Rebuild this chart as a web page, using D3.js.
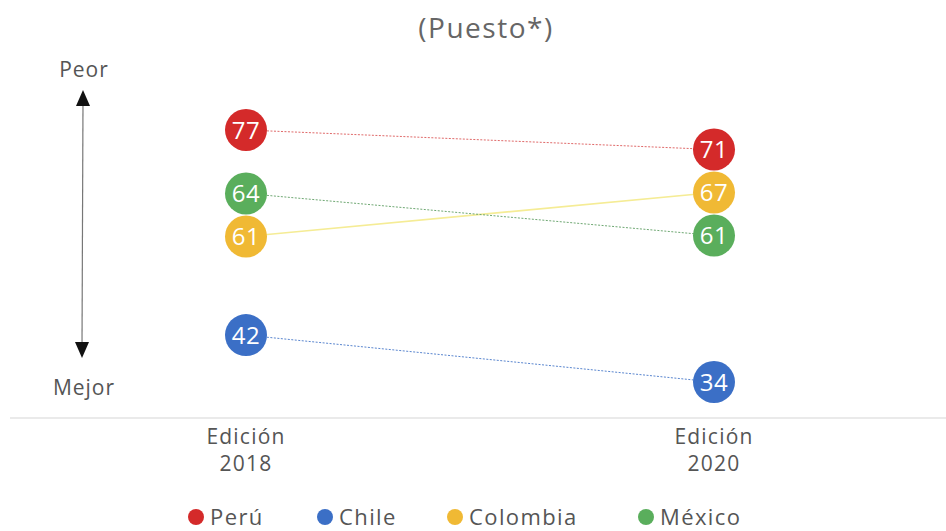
<!DOCTYPE html>
<html>
<head>
<meta charset="utf-8">
<script src="https://cdn.jsdelivr.net/npm/d3@7"></script>
<style>
body{margin:0;background:#fff;}
text{font-family:"Open Sans",sans-serif;}
</style>
</head>
<body>
<div id="chart"></div>
<script>
var w=946;
var h=531;
var paises=["Perú","Chile","Colombia","México"];
var colores=["#d42a2a","#3b6fc6","#f0b934","#5aae5c"];
var coloresLinea=["#e06a6a","#5a86cf","#f5ec95","#6fa873"];
var ediciones=["Edición 2018","Edición 2020"];
var puesto2018=[77,42,61,64];
var puesto2020=[71,34,67,61];

var svg=d3.select("#chart")
  .append("svg")
  .attr("width",w)
  .attr("height",h);

var x=d3.scalePoint()
  .domain(ediciones)
  .range([246,714]);
var y=d3.scaleLinear()
  .domain([34,77])
  .range([382,130]);
var color=d3.scaleOrdinal()
  .domain(paises)
  .range(colores);
var colorLinea=d3.scaleOrdinal()
  .domain(paises)
  .range(coloresLinea);

var r=21;
var nodos=[];
paises.forEach(function(p,i){
  nodos.push({pais:p,ed:ediciones[0],v:puesto2018[i]});
  nodos.push({pais:p,ed:ediciones[1],v:puesto2020[i]});
});
nodos.forEach(function(d){d.fx=x(d.ed);d.x=x(d.ed);d.y=y(d.v);});
// circles in the same column must not hide each other's numbers
var sim=d3.forceSimulation(nodos)
  .force("y",d3.forceY(function(d){return y(d.v);}).strength(0.3))
  .force("collide",d3.forceCollide(r+0.5))
  .stop();
for(var k=0;k<300;k++){sim.tick();}

// title
svg.append("text")
  .attr("x",486)
  .attr("y",38)
  .attr("text-anchor","middle")
  .style("font-size","28px")
  .style("letter-spacing","1.5px")
  .style("fill","#666")
  .text("(Puesto*)");

// peor / mejor arrow
svg.append("line")
  .attr("x1",83).attr("y1",100)
  .attr("x2",82).attr("y2",348)
  .style("stroke","#777")
  .style("stroke-width",1.2);
svg.append("path")
  .attr("d","M83,90L76,106L90,106Z")
  .attr("fill","#111");
svg.append("path")
  .attr("d","M82,358L75,342L89,342Z")
  .attr("fill","#111");
svg.append("text").attr("x",84).attr("y",77).attr("text-anchor","middle")
  .style("font-size","21px").style("letter-spacing","1px").style("fill","#555").text("Peor");
svg.append("text").attr("x",84).attr("y",395).attr("text-anchor","middle")
  .style("font-size","21px").style("letter-spacing","1px").style("fill","#555").text("Mejor");

// baseline
svg.append("line")
  .attr("x1",10).attr("x2",w)
  .attr("y1",418).attr("y2",418)
  .style("stroke","#d6d6d6")
  .style("stroke-width",1.2);

// x labels, two lines each
[0,1].forEach(function(j){
  svg.selectAll(".xlab"+j)
    .data(ediciones)
    .enter()
    .append("text")
    .attr("class","xlab"+j)
    .attr("x",function(d){return x(d);})
    .attr("y",444+j*27)
    .attr("text-anchor","middle")
    .style("font-size","21px")
    .style("letter-spacing","1.2px")
    .style("fill","#555")
    .text(function(d){return d.split(" ")[j];});
});

// slope lines
var lineas=paises.map(function(p){
  return {pais:p,
    a:nodos.filter(function(d){return d.pais==p&&d.ed==ediciones[0];})[0],
    b:nodos.filter(function(d){return d.pais==p&&d.ed==ediciones[1];})[0]};
});
svg.selectAll(".slope")
  .data(lineas)
  .enter()
  .append("line")
  .attr("class","slope")
  .attr("x1",function(d){return d.a.x;})
  .attr("y1",function(d){return d.a.y;})
  .attr("x2",function(d){return d.b.x;})
  .attr("y2",function(d){return d.b.y;})
  .style("stroke",function(d){return colorLinea(d.pais);})
  .style("stroke-width",function(d){return d.pais=="Colombia"?1.6:1;})
  .style("stroke-dasharray",function(d){return d.pais=="Colombia"?null:"2,1.5";});

// circles
var g=svg.selectAll(".nodo")
  .data(nodos)
  .enter()
  .append("g")
  .attr("class","nodo")
  .attr("transform",function(d){return "translate("+d.x+","+d.y+")";});
g.append("circle")
  .attr("r",r)
  .attr("fill",function(d){return color(d.pais);});
g.append("text")
  .attr("text-anchor","middle")
  .attr("dy","0.36em")
  .style("font-size","24px")
  .style("letter-spacing","0.5px")
  .style("fill","#fff")
  .text(function(d){return d.v;});

// legend
var leg=svg.selectAll(".leg")
  .data(paises)
  .enter()
  .append("g")
  .attr("class","leg")
  .attr("transform",function(d,i){return "translate("+[196,325,455,646][i]+",517)";});
leg.append("circle")
  .attr("r",8)
  .attr("fill",function(d){return color(d);});
leg.append("text")
  .attr("x",14)
  .attr("dy","0.36em")
  .style("font-size","22px")
  .style("letter-spacing","1.4px")
  .style("fill","#555")
  .text(function(d){return d;});
</script>
</body>
</html>
